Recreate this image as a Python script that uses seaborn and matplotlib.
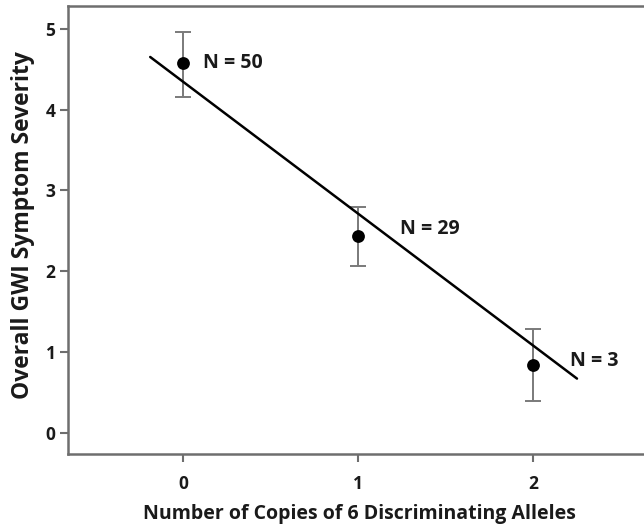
import numpy as np
import pandas as pd
import matplotlib
matplotlib.use("Agg")
import matplotlib.pyplot as plt
import seaborn as sns

# Datos
copias = [0, 1, 2]
severidad_media = [4.58, 2.43, 0.84]
error_sup = [4.96, 2.80, 1.29]
error_inf = [4.16, 2.07, 0.40]
etiquetas_n = ["N = 50", "N = 29", "N = 3"]

# Recta de regresion (pendiente / intercepto)
pendiente = -1.63
intercepto = 4.34
rango_recta = [-0.19, 2.25]

sns.set_theme(style="ticks")
plt.rcParams['font.family'] = ['Open Sans', 'DejaVu Sans']

def main():
    df = pd.DataFrame({"copias": copias, "media": severidad_media,
                       "sup": error_sup, "inf": error_inf, "n": etiquetas_n})
    recta = pd.DataFrame({"x": rango_recta})
    recta["y"] = intercepto + pendiente * recta["x"]

    fig = plt.figure(figsize=(6.44, 5.26), dpi=100)
    ax = fig.add_axes([68 / 644, 1 - 454 / 526, 1 - 68 / 644 + 0.01, (454 - 6) / 526])

    gris = "#6e6e6e"
    ax.errorbar(df["copias"], df["media"],
                yerr=[df["media"] - df["inf"], df["sup"] - df["media"]],
                fmt="none", ecolor="#7a7a7a", elinewidth=1.4, capsize=6, capthick=1.4, zorder=2)
    sns.lineplot(data=recta, x="x", y="y", color="black", linewidth=1.8, ax=ax, zorder=3)
    sns.scatterplot(data=df, x="copias", y="media", color="black", s=85,
                    edgecolor="black", linewidth=0, ax=ax, zorder=4)

    desplaz = [(20, 0), (42, 7), (37, 4)]
    for (_, fila), (dx, dy) in zip(df.iterrows(), desplaz):
        ax.annotate(fila["n"], (fila["copias"], fila["media"]), xytext=(dx, dy),
                    textcoords="offset pixels", ha="left", va="center",
                    fontsize=14, fontweight="bold", color="#1a1a1a")

    ax.set_xlim(-0.66, 2.67)
    ax.set_ylim(-0.26, 5.28)
    ax.set_xticks([0, 1, 2])
    ax.set_yticks([0, 1, 2, 3, 4, 5])
    ax.set_xlabel("Number of Copies of 6 Discriminating Alleles", fontsize=14,
                  fontweight="bold", labelpad=8, color="#1a1a1a")
    ax.set_ylabel("Overall GWI Symptom Severity", fontsize=16.5, fontweight="bold",
                  color="#1a1a1a")
    ax.yaxis.set_label_coords(-0.057, 0.51)
    ax.tick_params(axis="both", direction="out", length=6, width=1.5, color=gris,
                   labelsize=12.5, labelcolor="#1a1a1a")
    ax.tick_params(axis="x", pad=9)
    ax.tick_params(axis="y", pad=3)
    for lbl in ax.get_xticklabels() + ax.get_yticklabels():
        lbl.set_fontweight("bold")
    for lado in ["left", "bottom", "top"]:
        ax.spines[lado].set_color(gris)
        ax.spines[lado].set_linewidth(1.8)
    ax.spines["right"].set_visible(False)

    fig.savefig("out.png", dpi=100)
    plt.close(fig)

if __name__ == "__main__":
    main()
